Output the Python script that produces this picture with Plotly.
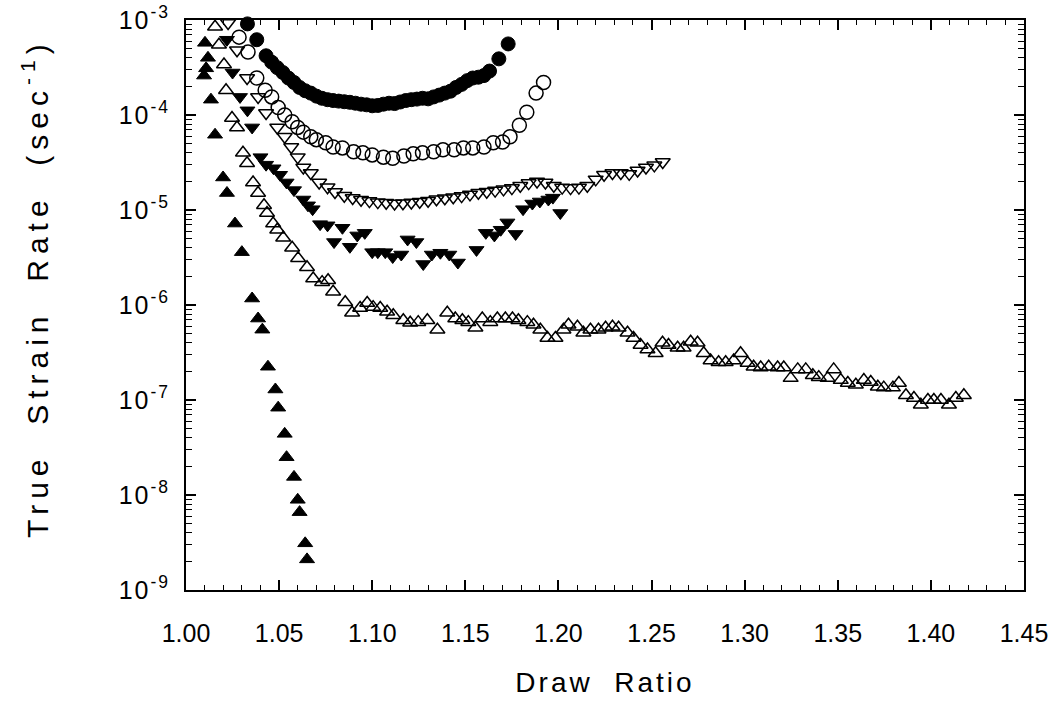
import plotly.graph_objects as go

# ---------------- data ----------------
fc_x = [1.033, 1.038, 1.043, 1.046, 1.049, 1.052, 1.055, 1.058, 1.061, 1.064, 1.067, 1.070,
        1.073, 1.076, 1.079, 1.082, 1.085, 1.088, 1.091, 1.094, 1.097, 1.100, 1.103, 1.106,
        1.109, 1.112, 1.115, 1.118, 1.121, 1.124, 1.127, 1.130, 1.133, 1.136, 1.139, 1.142,
        1.145, 1.148, 1.151, 1.154, 1.157, 1.160, 1.163, 1.168, 1.173]
fc_y = [9.1e-4, 6.2e-4, 4.2e-4, 3.6e-4, 3.15e-4, 2.8e-4, 2.45e-4, 2.2e-4, 1.95e-4, 1.8e-4, 1.7e-4, 1.58e-4,
        1.5e-4, 1.45e-4, 1.42e-4, 1.40e-4, 1.38e-4, 1.36e-4, 1.33e-4, 1.30e-4, 1.28e-4, 1.25e-4, 1.26e-4, 1.30e-4,
        1.33e-4, 1.32e-4, 1.37e-4, 1.42e-4, 1.45e-4, 1.47e-4, 1.50e-4, 1.48e-4, 1.55e-4, 1.62e-4, 1.70e-4, 1.78e-4,
        1.95e-4, 2.1e-4, 2.3e-4, 2.45e-4, 2.5e-4, 2.6e-4, 2.9e-4, 3.9e-4, 5.6e-4]

oc_x = [1.0285, 1.0333, 1.038, 1.0425, 1.046, 1.0495, 1.053, 1.057, 1.060, 1.063, 1.067, 1.070,
        1.075, 1.079, 1.084, 1.090, 1.095, 1.100, 1.106, 1.111, 1.117, 1.122, 1.127, 1.133,
        1.138, 1.144, 1.149, 1.154, 1.160, 1.165, 1.170, 1.174, 1.179, 1.183, 1.188, 1.192]
oc_y = [6.6e-4, 4.6e-4, 2.45e-4, 1.82e-4, 1.55e-4, 1.2e-4, 1.0e-4, 8.5e-5, 7.4e-5, 6.6e-5, 5.9e-5, 5.5e-5,
        5.1e-5, 4.6e-5, 4.5e-5, 4.1e-5, 4.0e-5, 3.8e-5, 3.6e-5, 3.5e-5, 3.7e-5, 3.9e-5, 4.0e-5, 4.1e-5,
        4.3e-5, 4.3e-5, 4.5e-5, 4.5e-5, 4.6e-5, 5.1e-5, 5.2e-5, 5.9e-5, 7.8e-5, 1.07e-4, 1.7e-4, 2.2e-4]

od_x = [1.0226, 1.0274, 1.0328, 1.0387, 1.043, 1.049, 1.053, 1.0565, 1.060, 1.063, 1.067, 1.0715,
        1.076, 1.080, 1.085, 1.0895, 1.094, 1.0985, 1.103, 1.1075, 1.112, 1.1165, 1.121, 1.1255,
        1.130, 1.1345, 1.139, 1.1435, 1.148, 1.1525, 1.157, 1.1615, 1.166, 1.1705, 1.175, 1.1795,
        1.184, 1.1885, 1.193, 1.1975, 1.202, 1.2065, 1.211, 1.2155, 1.220, 1.2245, 1.229, 1.2335,
        1.238, 1.2425, 1.247, 1.2515, 1.256]
od_y = [9.3e-4, 4.8e-4, 2.45e-4, 1.55e-4, 1.05e-4, 7.4e-5, 5.9e-5, 4.6e-5, 3.6e-5, 2.8e-5, 2.45e-5, 1.95e-5,
        1.74e-5, 1.55e-5, 1.41e-5, 1.34e-5, 1.28e-5, 1.24e-5, 1.21e-5, 1.19e-5, 1.17e-5, 1.18e-5, 1.2e-5, 1.22e-5,
        1.25e-5, 1.3e-5, 1.33e-5, 1.36e-5, 1.4e-5, 1.46e-5, 1.52e-5, 1.56e-5, 1.6e-5, 1.65e-5, 1.7e-5, 1.8e-5,
        1.92e-5, 2.0e-5, 1.95e-5, 1.8e-5, 1.72e-5, 1.7e-5, 1.72e-5, 1.8e-5, 2.1e-5, 2.35e-5, 2.45e-5, 2.45e-5,
        2.4e-5, 2.6e-5, 2.8e-5, 2.95e-5, 3.2e-5]

fd_x = [1.022, 1.025, 1.029, 1.033, 1.0355, 1.040, 1.043, 1.047, 1.0505, 1.054, 1.058, 1.063,
        1.0655, 1.068, 1.072, 1.076, 1.0795, 1.084, 1.088, 1.092, 1.096, 1.100, 1.103, 1.107,
        1.111, 1.1156, 1.119, 1.1237, 1.1274, 1.132, 1.1366, 1.1414, 1.146, 1.156, 1.161, 1.1656,
        1.169, 1.1726, 1.177, 1.181, 1.186, 1.190, 1.1946, 1.197, 1.201]
fd_y = [6.2e-4, 2.8e-4, 1.55e-4, 1.12e-4, 7.4e-5, 3.6e-5, 3.0e-5, 2.75e-5, 2.35e-5, 1.95e-5, 1.62e-5, 1.29e-5,
        1.12e-5, 1.02e-5, 7.1e-6, 6.9e-6, 4.6e-6, 6.5e-6, 4.1e-6, 5.4e-6, 5.75e-6, 3.6e-6, 3.6e-6, 3.6e-6,
        3.2e-6, 3.4e-6, 4.9e-6, 4.6e-6, 2.7e-6, 3.4e-6, 3.55e-6, 3.4e-6, 2.8e-6, 3.8e-6, 5.75e-6, 5.4e-6,
        6.2e-6, 7.4e-6, 5.6e-6, 1.02e-5, 1.17e-5, 1.23e-5, 1.29e-5, 1.35e-5, 9.3e-6]

ou_x = [1.0156, 1.0177, 1.0204, 1.0215, 1.0247, 1.0274, 1.0306, 1.0328, 1.036, 1.0387, 1.0419, 1.0435,
        1.0468, 1.049, 1.0522, 1.057, 1.0602, 1.065, 1.0683, 1.0731, 1.0763, 1.079, 1.0855, 1.0892,
        1.0935, 1.0973, 1.1005, 1.1043, 1.108, 1.1113, 1.1167, 1.1204, 1.1247, 1.1296, 1.135, 1.1403,
        1.1446, 1.1484, 1.1516, 1.1554, 1.1591, 1.1634, 1.1672, 1.1715, 1.1753, 1.1785, 1.1833, 1.1866,
        1.1903, 1.1941, 1.1984, 1.2027, 1.2054, 1.2102, 1.2134, 1.2172, 1.2215, 1.2253, 1.2290, 1.2323,
        1.2371, 1.2403, 1.2441, 1.2478, 1.2522, 1.2559, 1.2591, 1.2640, 1.2672, 1.2710, 1.2747, 1.2780,
        1.2817, 1.2860, 1.2898, 1.2941, 1.2978, 1.3016, 1.3048, 1.3086, 1.3129, 1.3177, 1.3210, 1.3247,
        1.3285, 1.3328, 1.3366, 1.3398, 1.3446, 1.3478, 1.3516, 1.3554, 1.3597, 1.3640, 1.3677, 1.3715,
        1.3747, 1.3796, 1.3828, 1.3866, 1.3909, 1.3946, 1.3984, 1.4016, 1.4054, 1.4097, 1.4134, 1.4177]
ou_y = [8.5e-4, 5.5e-4, 3.4e-4, 1.82e-4, 9.3e-5, 7.4e-5, 4.0e-5, 3.1e-5, 1.95e-5, 1.51e-5, 1.12e-5, 9.3e-6,
        7.2e-6, 6.2e-6, 5.1e-6, 4.0e-6, 3.1e-6, 2.5e-6, 1.9e-6, 1.74e-6, 1.82e-6, 1.38e-6, 1.07e-6, 8.3e-7,
        9.3e-7, 1.05e-6, 9.5e-7, 9.3e-7, 8.5e-7, 7.8e-7, 6.9e-7, 6.5e-7, 6.6e-7, 6.9e-7, 5.5e-7, 8.3e-7,
        7.2e-7, 6.9e-7, 6.6e-7, 5.75e-7, 7.2e-7, 6.6e-7, 7.2e-7, 7.2e-7, 7.2e-7, 6.9e-7, 6.6e-7, 6.2e-7,
        5.5e-7, 4.5e-7, 4.5e-7, 5.5e-7, 6.2e-7, 5.9e-7, 5.1e-7, 5.5e-7, 5.5e-7, 5.75e-7, 5.9e-7, 5.75e-7,
        5.1e-7, 4.5e-7, 3.8e-7, 3.4e-7, 3.1e-7, 4.0e-7, 3.8e-7, 3.55e-7, 3.55e-7, 4.1e-7, 4.0e-7, 3.1e-7,
        2.6e-7, 2.5e-7, 2.5e-7, 2.6e-7, 3.1e-7, 2.45e-7, 2.24e-7, 2.2e-7, 2.24e-7, 2.2e-7, 2.2e-7, 1.7e-7,
        2.1e-7, 2.1e-7, 1.82e-7, 1.74e-7, 1.7e-7, 2.1e-7, 1.62e-7, 1.51e-7, 1.45e-7, 1.62e-7, 1.55e-7, 1.38e-7,
        1.35e-7, 1.35e-7, 1.51e-7, 1.12e-7, 1.05e-7, 8.9e-8, 1.0e-7, 1.0e-7, 1.0e-7, 8.9e-8, 1.05e-7, 1.12e-7]

fu_x = [1.0102, 1.0118, 1.0108, 1.0097, 1.0134, 1.0156, 1.0199, 1.022, 1.0263, 1.030, 1.0355, 1.0387,
        1.041, 1.044, 1.048, 1.0495, 1.053, 1.054, 1.058, 1.060, 1.061, 1.064, 1.065]
fu_y = [5.75e-4, 4.0e-4, 3.1e-4, 2.6e-4, 1.45e-4, 6.2e-5, 2.2e-5, 1.51e-5, 7.2e-6, 3.6e-6, 1.17e-6, 7.2e-7,
        5.5e-7, 2.24e-7, 1.29e-7, 8.3e-8, 4.4e-8, 2.5e-8, 1.55e-8, 8.9e-9, 6.6e-9, 3.1e-9, 2.1e-9]

x_ticks = [1.00, 1.05, 1.10, 1.15, 1.20, 1.25, 1.30, 1.35, 1.40, 1.45]
x_labels = ["1.00", "1.05", "1.10", "1.15", "1.20", "1.25", "1.30", "1.35", "1.40", "1.45"]
y_ticks = [1e-9, 1e-8, 1e-7, 1e-6, 1e-5, 1e-4, 1e-3]
y_labels = ["10<sup>-9</sup>", "10<sup>-8</sup>", "10<sup>-7</sup>", "10<sup>-6</sup>",
            "10<sup>-5</sup>", "10<sup>-4</sup>", "10<sup>-3</sup>"]
x_title = "Draw&nbsp;&nbsp;Ratio"
y_title = "True&nbsp;&nbsp;Strain&nbsp;&nbsp;Rate&nbsp;&nbsp;(sec<sup>-1</sup>)"

# ---------------- figure ----------------
FONT = "Liberation Sans, Arial, Helvetica, sans-serif"
series = [
    (fc_x, fc_y, "circle", 14, 1.0),
    (oc_x, oc_y, "circle-open", 14, 1.5),
    (od_x, od_y, "triangle-down-open", 13, 1.5),
    (fd_x, fd_y, "triangle-down", 13, 1.0),
    (ou_x, ou_y, "triangle-up-open", 13, 1.5),
    (fu_x, fu_y, "triangle-up", 13, 1.0),
]
fig = go.Figure()
for xs, ys, sym, ms, lw in series:
    fig.add_trace(go.Scatter(
        x=xs, y=ys, mode="markers", showlegend=False, cliponaxis=False,
        marker=dict(symbol=sym, size=ms, color="black", line=dict(color="black", width=lw)),
    ))

def spaced(t, s):
    return '<span style="letter-spacing:%dpx">%s</span>' % (s, t)

x_minor = [round(1.0 + 0.01 * i, 2) for i in range(46)]
y_minor = [m * 10.0 ** e for e in range(-9, -3) for m in range(2, 10)]

fig.update_layout(
    width=1054, height=713,
    margin=dict(l=186, r=30, t=20, b=123),
    paper_bgcolor="white", plot_bgcolor="white",
    font=dict(family=FONT, color="black"),
    xaxis=dict(
        range=[1.0, 1.45], tickmode="array", tickvals=x_ticks, ticktext=x_labels,
        automargin=False,
        ticks="inside", ticklen=10, tickwidth=1.5, tickcolor="black",
        ticklabelstandoff=20,
        tickfont=dict(size=25, family=FONT),
        showline=True, linecolor="black", linewidth=2, mirror="allticks",
        showgrid=False, zeroline=False,
        minor=dict(tickvals=x_minor, ticks="inside", ticklen=5, tickwidth=1.2,
                   tickcolor="black", showgrid=False),
        title=dict(text=spaced(x_title, 3), standoff=26,
                   font=dict(size=28, family=FONT)),
    ),
    yaxis=dict(
        type="log", range=[-9, -3], tickmode="array", tickvals=y_ticks,
        ticktext=[spaced(t, 2) for t in y_labels],
        automargin=False,
        ticks="inside", ticklen=10, tickwidth=1.5, tickcolor="black",
        ticklabelstandoff=9,
        tickfont=dict(size=25, family=FONT),
        showline=True, linecolor="black", linewidth=2, mirror="allticks",
        showgrid=False, zeroline=False,
        minor=dict(tickvals=y_minor, ticks="inside", ticklen=6, tickwidth=1.2,
                   tickcolor="black", showgrid=False),
    ),
    annotations=[dict(
        text=spaced(y_title, 6), textangle=-90, showarrow=False,
        xref="paper", yref="paper", x=-0.18, y=0.53, xanchor="center", yanchor="middle",
        font=dict(size=30, family=FONT, color="black"),
    )],
)

fig.write_html("out.html")
